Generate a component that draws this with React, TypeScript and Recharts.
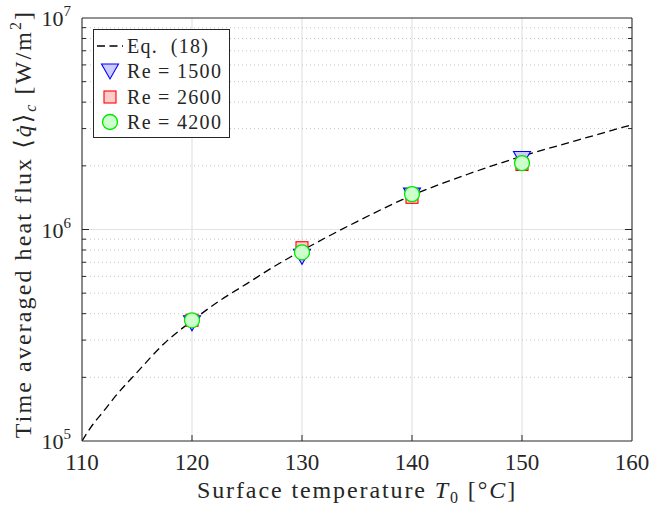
import {
  ComposedChart,
  Line,
  Scatter,
  XAxis,
  YAxis,
  CartesianGrid,
  ReferenceLine,
  Legend,
} from "recharts";

const FONT = "'Liberation Serif', 'DejaVu Serif', serif";
const INK = "#262626";

// Eq. (18) curve
const T_CURVE = [110, 111, 112, 113, 115, 117.5, 120, 122.5, 125, 127.5, 130, 135, 140, 145, 150, 155, 160];
const Q_CURVE = [1.0e5, 1.2e5, 1.39e5, 1.62e5, 2.11e5, 2.9e5, 3.7e5, 4.6e5, 5.55e5, 6.7e5, 7.95e5, 1.09e6, 1.45e6, 1.82e6, 2.22e6, 2.64e6, 3.13e6];

// measured points
const T_POINTS = [120, 130, 140, 150];
const RE1500 = [3.66e5, 7.55e5, 1.47e6, 2.19e6];
const RE2600 = [3.72e5, 8.2e5, 1.42e6, 2.03e6];
const RE4200 = [3.72e5, 7.8e5, 1.47e6, 2.06e6];

const X_TICKS = [110, 120, 130, 140, 150, 160];
const Y_MAJOR = [1e5, 1e6, 1e7];
const Y_MINOR = [2e5, 3e5, 4e5, 5e5, 6e5, 7e5, 8e5, 9e5, 2e6, 3e6, 4e6, 5e6, 6e6, 7e6, 8e6, 9e6];
const Y_TICKS = [...Y_MAJOR, ...Y_MINOR].sort((a, b) => a - b);

const curveData = T_CURVE.map((T, i) => ({ T, q: Q_CURVE[i] }));
const toPoints = (vals: number[]) => T_POINTS.map((T, i) => ({ T, q: vals[i] }));

const Triangle = ({ cx, cy }: any) => (
  <polygon
    points={`${cx - 8.5},${cy - 6} ${cx + 8.5},${cy - 6} ${cx},${cy + 9}`}
    fill="#ccccff"
    stroke="#0000ff"
    strokeWidth={1.1}
  />
);
const Square = ({ cx, cy }: any) => (
  <rect x={cx - 6} y={cy - 6} width={12} height={12} fill="#ffcccc" stroke="#ff0000" strokeWidth={1.1} />
);
const Circle = ({ cx, cy }: any) => (
  <circle cx={cx} cy={cy} r={7.5} fill="#ccffcc" stroke="#00e600" strokeWidth={1.3} />
);

const isMajor = (v: number) => Y_MAJOR.includes(v);

const LeftTick = ({ x, y, payload }: any) => {
  const v = payload.value;
  const len = isMajor(v) ? 7 : 4;
  const exp = Math.round(Math.log10(v));
  return (
    <g>
      {v !== 1e5 && v !== 1e7 && <line x1={x} y1={y} x2={x + len} y2={y} stroke={INK} />}
      {isMajor(v) && (
        <text x={x - 11} y={y + 8} textAnchor="end" fontFamily={FONT} fontSize={22} fill={INK}>
          10
          <tspan dy={-10} fontSize={15}>
            {exp}
          </tspan>
        </text>
      )}
    </g>
  );
};

const RightTick = ({ x, y, payload }: any) => {
  const v = payload.value;
  if (v === 1e5 || v === 1e7) return null;
  const len = isMajor(v) ? 7 : 4;
  return <line x1={x} y1={y} x2={x - len} y2={y} stroke={INK} />;
};

const BottomTick = ({ x, y, payload }: any) => {
  const v = payload.value;
  return (
    <g>
      {v !== 110 && v !== 160 && <line x1={x} y1={y} x2={x} y2={y - 6} stroke={INK} />}
      <text x={x} y={y + 29} textAnchor="middle" fontFamily={FONT} fontSize={23} fill={INK}>
        {v}
      </text>
    </g>
  );
};

const TopTick = ({ x, y, payload }: any) => {
  const v = payload.value;
  if (v === 110 || v === 160) return null;
  return <line x1={x} y1={y} x2={x} y2={y + 6} stroke={INK} />;
};

const LegendBox = () => (
  <svg width={138} height={110} style={{ display: "block" }}>
    <rect x={0.5} y={0.5} width={136} height={108} fill="#fff" stroke={INK} />
    <line x1={4} y1={17} x2={30} y2={17} stroke="#000" strokeWidth={1.3} strokeDasharray="8 4.5" />
    <Triangle cx={17} cy={41} />
    <Square cx={17} cy={68} />
    <Circle cx={17} cy={93} />
    {["Eq.  (18)", "Re = 1500", "Re = 2600", "Re = 4200"].map((t, i) => (
      <text
        key={t}
        x={34}
        y={[24, 49, 75, 100][i]}
        fontFamily={FONT}
        fontSize={20}
        letterSpacing={1.3}
        fill={INK}
        style={{ whiteSpace: "pre" }}
      >
        {t}
      </text>
    ))}
  </svg>
);

const YLabel = () => (
  <text
    transform="translate(31, 224) rotate(-90)"
    textAnchor="middle"
    fontFamily={FONT}
    fontSize={24}
    letterSpacing={2.1}
    fill={INK}
  >
    Time averaged heat flux ⟨<tspan fontStyle="italic">q̇</tspan>⟩
    <tspan dy={5} fontSize={16} fontStyle="italic">
      c
    </tspan>
    <tspan dy={-5}> [W/m</tspan>
    <tspan dy={-10} fontSize={16}>
      2
    </tspan>
    <tspan dy={10}>]</tspan>
  </text>
);

const XLabel = () => (
  <text x={357} y={498} textAnchor="middle" fontFamily={FONT} fontSize={24} letterSpacing={1.9} fill={INK}>
    Surface temperature <tspan fontStyle="italic">T</tspan>
    <tspan dy={5} fontSize={16}>
      0
    </tspan>
    <tspan dy={-5}> [°</tspan>
    <tspan fontStyle="italic">C</tspan>]
  </text>
);

export default function App() {
  return (
    <div style={{ position: "absolute", left: 0, top: 0, background: "#fff" }}>
      <ComposedChart
        width={650}
        height={506}
        data={curveData}
        margin={{ top: 17, right: 17, left: 0, bottom: 0 }}
      >
        <CartesianGrid horizontal={false} stroke="#e3e3e3" strokeWidth={1.2} />
        {Y_MINOR.map((v) => (
          <ReferenceLine key={v} y={v} stroke="#c8c8c8" strokeDasharray="1 3" />
        ))}
        <ReferenceLine y={1e6} stroke="#e3e3e3" strokeWidth={1.2} />

        <XAxis
          dataKey="T"
          type="number"
          domain={[110, 160]}
          ticks={X_TICKS}
          allowDataOverflow
          height={65}
          tickSize={0}
          tickMargin={0}
          stroke={INK}
          tick={<BottomTick />}
          label={{ content: () => <XLabel /> }}
        />
        <XAxis
          xAxisId="top"
          orientation="top"
          type="number"
          domain={[110, 160]}
          ticks={X_TICKS}
          allowDataOverflow
          height={1}
          tickSize={0}
          tickMargin={0}
          stroke={INK}
          tick={<TopTick />}
        />
        <YAxis
          type="number"
          scale="log"
          domain={[1e5, 1e7]}
          ticks={Y_TICKS}
          interval={0}
          allowDataOverflow
          width={82}
          tickSize={0}
          tickMargin={0}
          stroke={INK}
          tick={<LeftTick />}
          label={{ content: () => <YLabel /> }}
        />
        <YAxis
          yAxisId="right"
          orientation="right"
          type="number"
          scale="log"
          domain={[1e5, 1e7]}
          ticks={Y_TICKS}
          interval={0}
          allowDataOverflow
          width={1}
          tickSize={0}
          tickMargin={0}
          stroke={INK}
          tick={<RightTick />}
        />

        <Line
          dataKey="q"
          type="monotone"
          stroke="#000"
          strokeWidth={1.3}
          strokeDasharray="8 4.5"
          dot={false}
          isAnimationActive={false}
        />
        <Scatter data={toPoints(RE1500)} dataKey="q" shape={<Triangle />} isAnimationActive={false} />
        <Scatter data={toPoints(RE2600)} dataKey="q" shape={<Square />} isAnimationActive={false} />
        <Scatter data={toPoints(RE4200)} dataKey="q" shape={<Circle />} isAnimationActive={false} />

        <Legend
          layout="horizontal"
          verticalAlign="middle"
          align="center"
          content={() => <LegendBox />}
          wrapperStyle={{ position: "absolute", left: 93, top: 29, width: 138, height: 110 }}
        />
      </ComposedChart>
    </div>
  );
}
